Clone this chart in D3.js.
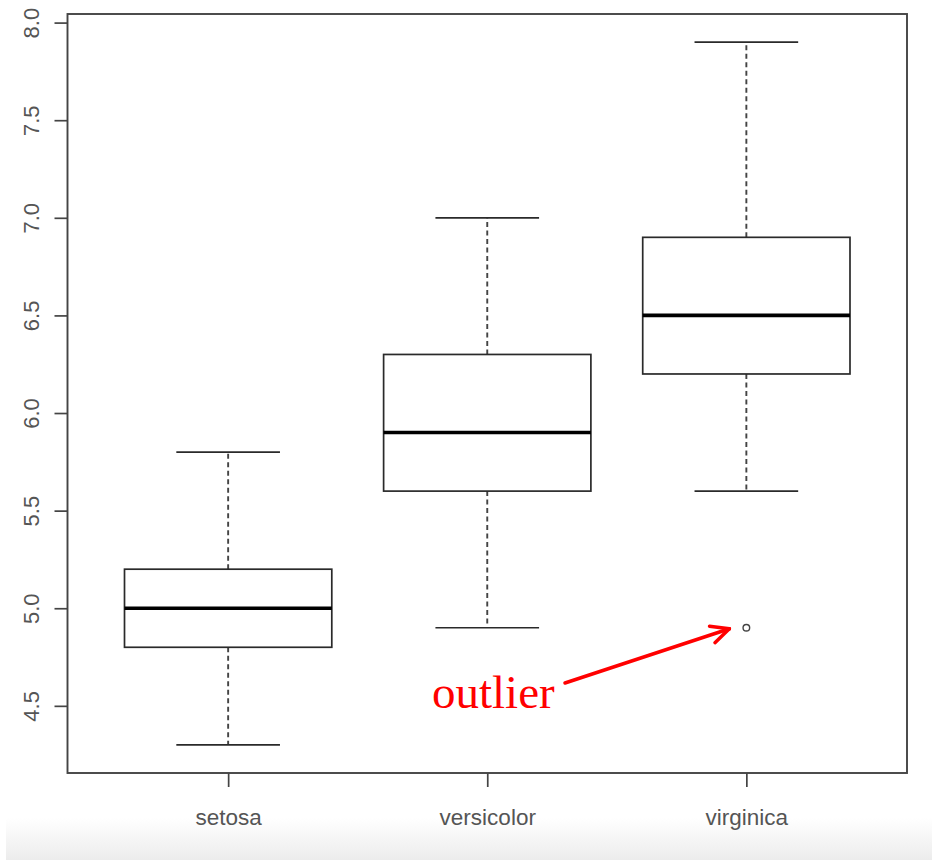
<!DOCTYPE html>
<html>
<head>
<meta charset="utf-8">
<script src="https://cdn.jsdelivr.net/npm/d3@7"></script>
<style>
html,body{margin:0;padding:0;background:#fff;}
svg{display:block;}
</style>
</head>
<body>
<svg id="chart" width="932" height="860"></svg>
<script>
// Data (iris Sepal.Length by species)
const species = ["setosa", "versicolor", "virginica"];
const lowerWhisker = [4.3, 4.9, 5.6];
const q1 = [4.8, 5.6, 6.2];
const median = [5.0, 5.9, 6.5];
const q3 = [5.2, 6.3, 6.9];
const upperWhisker = [5.8, 7.0, 7.9];
const outliers = [{group: 3, value: 4.9}];
const yTicks = [4.5, 5.0, 5.5, 6.0, 6.5, 7.0, 7.5, 8.0];
const annotation = "outlier";

const svg = d3.select("#chart");

// bottom light band
const defs = svg.append("defs");
const grad = defs.append("linearGradient").attr("id", "band").attr("x1", 0).attr("y1", 0).attr("x2", 0).attr("y2", 1);
grad.append("stop").attr("offset", "0%").attr("stop-color", "#ffffff");
grad.append("stop").attr("offset", "100%").attr("stop-color", "#ececec");
svg.append("rect").attr("x", 6).attr("y", 818).attr("width", 926).attr("height", 42).attr("fill", "url(#band)");

const plotL = 67.5, plotR = 907, plotT = 14, plotB = 773;
const x = d3.scaleLinear().domain([0.38, 3.62]).range([plotL, plotR]);
const y = d3.scaleLinear().domain([4.156, 8.044]).range([plotB, plotT]);

const lineCol = "#2a2a2a";
const boxHalf = (x(1.4) - x(1.0));
const capHalf = boxHalf / 2;

const data = species.map((s, i) => ({
  name: s, pos: i + 1, lo: lowerWhisker[i], q1: q1[i], med: median[i], q3: q3[i], hi: upperWhisker[i]
}));

const g = svg.append("g");

data.forEach(d => {
  const cx = x(d.pos);
  // whiskers (dashed)
  g.append("line").attr("x1", cx).attr("x2", cx).attr("y1", y(d.q3)).attr("y2", y(d.hi))
    .attr("stroke", "#444").attr("stroke-width", 1.9).attr("stroke-dasharray", "5,3.5");
  g.append("line").attr("x1", cx).attr("x2", cx).attr("y1", y(d.q1)).attr("y2", y(d.lo))
    .attr("stroke", "#444").attr("stroke-width", 1.9).attr("stroke-dasharray", "5,3.5");
  // caps
  [d.lo, d.hi].forEach(v => {
    g.append("line").attr("x1", cx - capHalf).attr("x2", cx + capHalf).attr("y1", y(v)).attr("y2", y(v))
      .attr("stroke", lineCol).attr("stroke-width", 1.7);
  });
  // box
  g.append("rect").attr("x", cx - boxHalf).attr("width", 2 * boxHalf)
    .attr("y", y(d.q3)).attr("height", y(d.q1) - y(d.q3))
    .attr("fill", "none").attr("stroke", lineCol).attr("stroke-width", 1.7);
  // median
  g.append("line").attr("x1", cx - boxHalf).attr("x2", cx + boxHalf).attr("y1", y(d.med)).attr("y2", y(d.med))
    .attr("stroke", "#000").attr("stroke-width", 3.6);
});

// outliers
g.selectAll("circle.out").data(outliers).enter().append("circle")
  .attr("class", "out")
  .attr("cx", d => x(d.group)).attr("cy", d => y(d.value)).attr("r", 3.3)
  .attr("fill", "none").attr("stroke", "#444").attr("stroke-width", 1.4);

// frame
svg.append("rect").attr("x", plotL).attr("y", plotT).attr("width", plotR - plotL).attr("height", plotB - plotT)
  .attr("fill", "none").attr("stroke", "#444").attr("stroke-width", 1.9);

// y axis
const yAxis = d3.axisLeft(y).tickValues(yTicks).tickFormat(d3.format(".1f")).tickSize(13).tickPadding(0);
const ya = svg.append("g").attr("transform", `translate(${plotL},0)`).call(yAxis);
ya.select(".domain").remove();
ya.selectAll(".tick line").attr("stroke", "#444").attr("stroke-width", 1.7);
ya.selectAll(".tick text")
  .attr("transform", "rotate(-90)")
  .attr("x", 0).attr("y", -29)
  .attr("dy", 0)
  .attr("text-anchor", "middle")
  .attr("fill", "#555")
  .style("font-family", "'Liberation Sans', Arial, sans-serif")
  .style("font-size", "22px");

// x axis
const xAxis = d3.axisBottom(x).tickValues(species.map((s, i) => i + 1)).tickFormat((d) => species[d - 1]).tickSize(14).tickPadding(0);
const xa = svg.append("g").attr("transform", `translate(0,${plotB})`).call(xAxis);
xa.select(".domain").remove();
xa.selectAll(".tick line").attr("stroke", "#444").attr("stroke-width", 1.7);
xa.selectAll(".tick text")
  .attr("y", 52).attr("dy", 0)
  .attr("fill", "#555")
  .style("font-family", "'Liberation Sans', Arial, sans-serif")
  .style("font-size", "22.5px");

// annotation
const out = outliers[0];
const tipX = x(out.group) - 17, tipY = y(out.value) + 1;
const startX = 565, startY = 683;
svg.append("line").attr("x1", startX).attr("y1", startY).attr("x2", tipX).attr("y2", tipY)
  .attr("stroke", "#f00").attr("stroke-width", 3.5).attr("stroke-linecap", "round");
const ang = Math.atan2(tipY - startY, tipX - startX);
const headLen = 20, headAng = Math.PI / 7;
[1, -1].forEach(s => {
  svg.append("line").attr("x1", tipX).attr("y1", tipY)
    .attr("x2", tipX - headLen * Math.cos(ang + s * headAng))
    .attr("y2", tipY - headLen * Math.sin(ang + s * headAng))
    .attr("stroke", "#f00").attr("stroke-width", 3.5).attr("stroke-linecap", "round");
});
svg.append("text").attr("x", 432).attr("y", 708).text(annotation)
  .attr("fill", "#f00")
  .style("font-family", "'Liberation Serif', 'Times New Roman', serif")
  .style("font-size", "47px");
</script>
</body>
</html>
